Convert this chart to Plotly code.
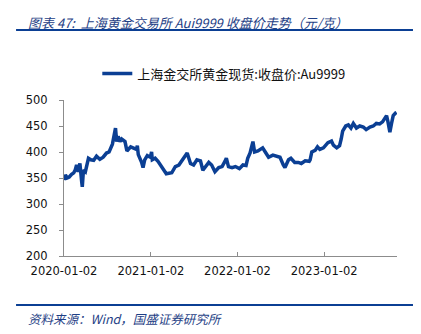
import plotly.graph_objects as go

# 上海金交所 Au9999 收盘价（元/克）
dates = [
    "2020-01-02", "2020-01-08", "2020-01-15", "2020-01-24", "2020-02-03", "2020-02-12",
    "2020-02-18", "2020-02-24", "2020-03-02", "2020-03-09", "2020-03-16", "2020-03-19",
    "2020-03-24", "2020-04-01", "2020-04-14", "2020-04-24", "2020-05-06", "2020-05-18",
    "2020-06-01", "2020-06-15", "2020-06-29", "2020-07-10", "2020-07-24", "2020-07-28",
    "2020-08-06", "2020-08-11", "2020-08-17", "2020-08-25", "2020-09-01", "2020-09-15",
    "2020-09-23", "2020-10-09", "2020-10-20", "2020-11-02", "2020-11-06", "2020-11-10",
    "2020-11-24", "2020-11-30", "2020-12-07", "2020-12-18", "2020-12-31",
    "2021-01-05", "2021-01-08", "2021-01-20", "2021-02-01", "2021-02-16", "2021-03-01",
    "2021-03-08", "2021-03-31", "2021-04-15", "2021-04-30", "2021-05-14", "2021-05-28",
    "2021-06-04", "2021-06-18", "2021-07-01", "2021-07-15", "2021-07-30", "2021-08-09",
    "2021-08-20", "2021-09-03", "2021-09-15", "2021-09-29", "2021-10-15", "2021-10-29",
    "2021-11-10", "2021-11-16", "2021-11-25", "2021-12-10", "2021-12-24",
    "2022-01-10", "2022-01-25", "2022-02-07", "2022-02-14", "2022-02-24", "2022-03-08",
    "2022-03-15", "2022-03-29", "2022-04-18", "2022-04-29", "2022-05-13", "2022-05-31",
    "2022-06-15", "2022-06-30", "2022-07-14", "2022-07-21", "2022-08-05", "2022-08-15",
    "2022-08-31", "2022-09-15", "2022-09-28", "2022-10-14", "2022-10-31", "2022-11-04",
    "2022-11-11", "2022-11-25", "2022-12-05", "2022-12-15", "2022-12-30",
    "2023-01-09", "2023-01-18", "2023-02-02", "2023-02-10", "2023-02-24", "2023-03-08",
    "2023-03-15", "2023-03-21", "2023-04-03", "2023-04-14", "2023-04-25", "2023-05-05",
    "2023-05-18", "2023-06-01", "2023-06-16", "2023-06-28", "2023-07-14", "2023-07-28",
    "2023-08-10", "2023-08-24", "2023-09-05", "2023-09-15", "2023-09-22", "2023-09-28",
    "2023-10-06", "2023-10-13", "2023-10-20", "2023-10-30", "2023-11-03",
]
close = [
    346, 356, 350, 352, 357, 360,
    365, 375, 362, 378, 345, 333,
    365, 362, 388, 385, 384, 392,
    386, 390, 398, 400, 415, 428,
    446, 420, 430, 420, 425, 420,
    402, 410, 408, 405, 412, 395,
    380, 370, 385, 393, 390,
    400, 385, 388, 382, 372, 365,
    358, 360, 372, 375, 385, 395,
    398, 378, 375, 385, 383, 365,
    372, 380, 375, 362, 370, 372,
    382, 388, 372, 370, 372,
    368, 375, 374, 388, 398, 420,
    400, 402, 408, 400, 390, 394,
    392, 390, 375, 370, 385, 388,
    380, 380, 378, 383, 382, 385,
    400, 403, 410, 405, 408,
    413, 418, 421, 413, 408, 412,
    425, 440, 450, 452, 446, 455,
    446, 450, 448, 443, 448, 450,
    455, 454, 458, 465, 470, 458,
    438, 455, 470, 475, 476,
]

x_ticks = ["2020-01-02", "2021-01-02", "2022-01-02", "2023-01-02"]
y_ticks = [200, 250, 300, 350, 400, 450, 500]

series_name = "上海金交所黄金现货:收盘价:Au9999"
title_text = "图表 47:  上海黄金交易所 Aui9999 收盘价走势（元/克）"
source_text = "资料来源：Wind，国盛证券研究所"

navy = "#0b3f94"
text_blue = "#1f3f86"
cjk = "Noto Sans CJK SC"

fig = go.Figure()
fig.add_trace(go.Scatter(
    x=dates, y=close, mode="lines", name=series_name,
    line=dict(color=navy, width=3.5),
))

fig.update_layout(
    width=421, height=334,
    margin=dict(l=64, r=24, t=100, b=78),
    paper_bgcolor="white", plot_bgcolor="white",
    showlegend=True,
    legend=dict(
        orientation="h", x=0.1, y=1.17, xanchor="left", yanchor="middle",
        font=dict(family=cjk, size=13, color="#111111"),
        bgcolor="rgba(0,0,0,0)",
    ),
    xaxis=dict(
        type="date", range=["2020-01-02", "2023-11-05"],
        tickvals=x_ticks, ticktext=x_ticks,
        showline=True, linecolor="#8c8c8c", linewidth=1,
        ticks="inside", ticklen=4, tickcolor="#8c8c8c",
        ticklabelstandoff=4,
        showgrid=False, zeroline=False,
        tickfont=dict(family="DejaVu Sans", size=11.5, color="#111111"),
    ),
    yaxis=dict(
        range=[200, 500], tickvals=y_ticks,
        showline=True, linecolor="#8c8c8c", linewidth=1,
        ticks="outside", ticklen=4, tickcolor="#8c8c8c",
        ticklabelstandoff=9,
        showgrid=False, zeroline=False,
        tickfont=dict(family="DejaVu Sans", size=11.5, color="#111111"),
    ),
    annotations=[
        dict(text=title_text, xref="paper", yref="paper",
             x=-0.114, y=1.5, xanchor="left", yanchor="middle", showarrow=False,
             font=dict(family=cjk, size=13, color=text_blue, style="italic")),
        dict(text=source_text, xref="paper", yref="paper",
             x=-0.114, y=-0.4, xanchor="left", yanchor="middle", showarrow=False,
             font=dict(family=cjk, size=12.5, color=text_blue, style="italic")),
    ],
    shapes=[
        dict(type="line", xref="paper", yref="paper",
             x0=-0.144, x1=1.048, y0=1.449, y1=1.449,
             line=dict(color=navy, width=2)),
        dict(type="line", xref="paper", yref="paper",
             x0=-0.144, x1=1.048, y0=-0.314, y1=-0.314,
             line=dict(color=navy, width=2)),
    ],
)

fig.write_html("out.html")
